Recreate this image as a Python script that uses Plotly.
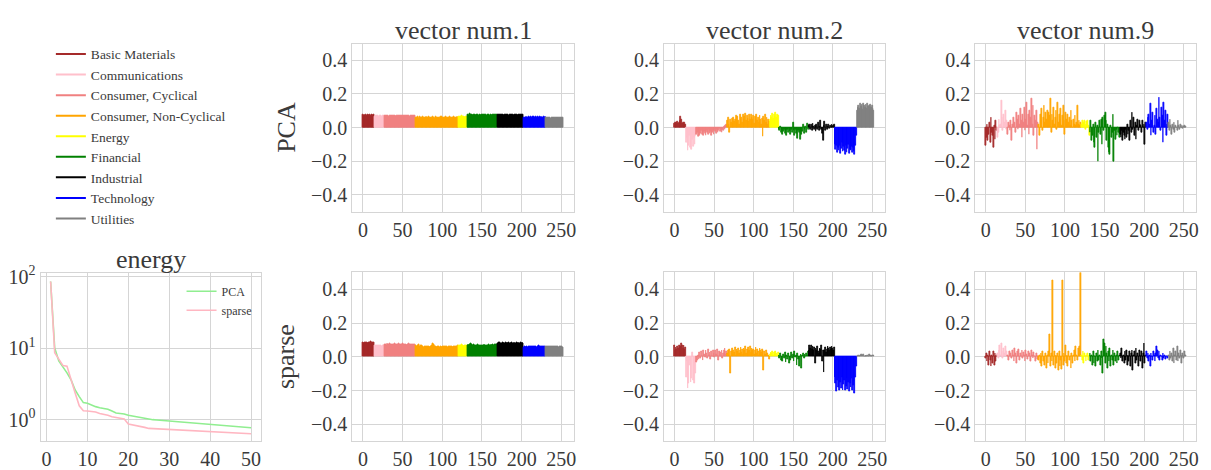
import plotly.graph_objects as go

# ---------------- data ----------------
sectors = ["Basic Materials", "Communications", "Consumer, Cyclical",
           "Consumer, Non-Cyclical", "Energy", "Financial", "Industrial",
           "Technology", "Utilities"]
sector_colors = ["#a52a2a", "#ffc0cb", "#f08080", "#ffa500", "#ffff00",
                 "#008000", "#000000", "#0000ff", "#808080"]

# loadings, one inner list per sector (stocks ordered by sector)
pca_v1 = [
    [.075,.072,.078,.074,.076, .073,.079,.075,.072,.077, .074,.078,.076,.073,.075],
    [.068,.070,.066,.071,.069, .067,.072,.068,.070,.066, .069,.071,.068],
    [.070,.072,.069,.073,.071, .068,.074,.070,.072,.069, .073,.071,.070,.074,.068,
     .072,.070,.073,.069,.071, .074,.070,.072,.068,.073, .071,.069,.072,.070,.074,
     .071,.068,.072,.070,.073, .069,.071,.070,.072],
    [.062,.058,.065,.060,.056, .063,.059,.061,.057,.064, .060,.058,.062,.066,.059,
     .061,.063,.057,.060,.062, .058,.064,.061,.059,.056, .063,.060,.062,.058,.061,
     .057,.063,.059,.065,.060, .062,.058,.061,.064,.059, .062,.057,.060,.063,.058,
     .061,.059,.062,.064,.060, .058,.061,.063,.059],
    [.065,.068,.063,.066,.069, .064,.067,.065,.062,.066, .068],
    [.076,.079,.074,.081,.077, .075,.078,.073,.080,.076, .074,.078,.075,.077,.073,
     .079,.076,.074,.078,.075, .077,.073,.076,.079,.074, .076,.078,.075,.073,.077,
     .076,.074,.078,.075,.077, .073,.076,.078],
    [.076,.078,.074,.077,.079, .075,.078,.076,.074,.077, .079,.075,.078,.076,.074,
     .077,.075,.079,.076,.078, .074,.077,.075,.078,.076, .074,.077,.079,.075,.076,
     .078,.074,.077],
    [.060,.062,.058,.063,.061, .059,.064,.060,.062,.065, .061,.063,.066,.062,.060,
     .064,.061,.063,.059,.062, .065,.061,.063,.060,.062, .064,.061,.063],
    [.058,.060,.057,.059,.061, .058,.056,.060,.059,.057, .061,.058,.060,.057,.059,
     .058,.060,.057,.059,.061, .058,.060],
]

sparse_v1 = [
    [.085,.082,.088,.084,.086, .083,.080,.085,.087,.084, .092,.086,.083,.088,.085],
    [.066,.068,.064,.069,.067, .065,.070,.066,.068,.064, .067,.069,.066],
    [.072,.075,.070,.077,.073, .071,.078,.074,.076,.072, .075,.073,.077,.071,.074,
     .076,.072,.078,.073,.075, .071,.074,.077,.072,.075, .073,.076,.070,.074,.072,
     .077,.073,.071,.075,.074, .072,.076,.073,.071],
    [.068,.064,.070,.066,.072, .063,.067,.065,.061,.064, .058,.062,.060,.057,.061,
     .059,.063,.058,.062,.060, .065,.080,.072,.066,.062, .060,.058,.061,.059,.063,
     .057,.060,.062,.058,.061, .063,.059,.057,.062,.060, .058,.061,.063,.059,.062,
     .060,.057,.061,.059,.064, .060,.062,.058,.065],
    [.065,.068,.070,.066,.072, .067,.064,.069,.066,.070, .067],
    [.068,.072,.070,.075,.082, .074,.070,.068,.072,.069, .066,.070,.067,.071,.068,
     .065,.069,.067,.070,.066, .068,.071,.067,.069,.066, .070,.068,.072,.067,.069,
     .071,.068,.073,.070,.072, .074,.071,.076],
    [.080,.083,.078,.085,.081, .079,.084,.086,.082,.080, .085,.081,.083,.079,.084,
     .082,.080,.086,.083,.081, .079,.084,.082,.080,.085, .081,.083,.079,.082,.084,
     .080,.083,.081],
    [.058,.061,.056,.060,.062, .057,.059,.063,.058,.061, .064,.059,.062,.057,.060,
     .063,.058,.061,.059,.066, .060,.062,.058,.061,.059, .063,.060,.062],
    [.062,.060,.063,.061,.059, .062,.064,.060,.061,.063, .059,.062,.060,.061,.063,
     .060,.058,.062,.061,.059, .060,.058],
]

pca_v2 = [
    [.025,.030,.020,.028,.035, .022,.030,.040,.065,.045, .025,.030,.020,.028,.015],
    [-.090,-.060,-.140,-.110,-.050, -.120,-.080,-.130,-.070,-.115, -.060,-.100,-.045],
    [-.040,-.030,-.055,-.025,-.045, -.035,-.020,-.040,-.030,-.050, -.025,-.035,-.045,-.020,-.030,
     -.040,-.015,-.035,-.025,-.045, -.030,-.020,-.040,-.010,-.025, -.035,-.015,-.030,-.020,-.005,
     -.025,-.015,-.030,-.010,-.020, .005,-.015,.010,.020],
    [.040,.060,.020,-.030,.045, .030,.055,.025,.060,.035, .050,.070,.030,.065,.040,
     .020,.075,.045,.060,.030, .080,.050,.065,.085,.040, .070,.055,.035,.075,.050,
     .080,.060,.045,.070,.025, .065,.050,.075,.040,.060, .030,.070,.045,.020,.055,
     -.055,.065,.040,.075,.030, .060,.015,.050,.035],
    [.050,.070,.060,.085,.055, .075,.065,.090,.060,.080, .070],
    [-.010,-.020,.005,-.030,-.015, -.040,-.025,-.010,-.035,-.020, -.045,-.015,-.030,-.005,-.025,
     -.040,-.010,-.030,.030,-.020, -.050,-.015,-.035,-.005,-.065, -.020,-.030,-.070,-.010,-.040,
     -.025,.020,-.035,-.015,.005, -.030,.025,-.010],
    [.010,.020,-.010,.015,-.020, .025,.005,-.015,.010,-.025, .020,-.010,.030,-.020,.005,
     .040,-.015,-.035,-.080,.010, .035,-.020,.015,-.010,.005, .020,-.005,.010,.000,.015,
     .005,.010,.020],
    [-.100,-.130,-.110,-.150,-.120, -.140,-.105,-.155,-.125,-.090, -.145,-.115,-.135,-.160,-.110,
     -.150,-.125,-.100,-.155,-.130, -.140,-.115,-.150,-.120,-.145, -.160,-.110,-.050],
    [.100,.120,.130,.110,.140, .125,.135,.105,.140,.130, .120,.135,.110,.140,.125,
     .130,.105,.135,.120,.130, .115,.100],
]

sparse_v2 = [
    [.065,.040,.055,.045,.060, .050,.070,.055,.060,.080, .065,.050,.070,.045,.055],
    [-.120,-.030,-.185,-.160,-.050, -.020,-.150,-.130,.025,-.140, -.160,-.060,-.100],
    [-.035,-.020,.010,-.015,.025, -.010,.030,.005,-.020,.040, .015,-.005,.035,.020,-.010,
     .045,.010,.025,-.015,.030, .005,.040,.020,-.005,.035, .015,.045,.010,-.020,.030,
     .025,.005,.040,-.010,.020, .035,.050,.015,.030],
    [.020,.035,.010,.045,-.100, .030,.050,.015,.040,.025, .055,.010,.045,.030,.050,
     .020,.040,.055,.025,.045, .015,.050,.035,.060,.020, .045,.030,.055,.040,.060,
     .025,.050,.035,.045,.015, .040,.055,.020,.045,.030, .010,.050,.035,.025,.045,
     .040,-.080,.030,.015,.035, .005,.020,.010,-.015],
    [.015,.025,.020,.030,.010, .025,.015,.030,.020,.010, .025],
    [.010,-.010,.020,-.020,.005, -.030,.015,-.010,.025,-.035, .010,-.015,.020,-.040,.005,
     -.020,.025,-.010,.015,-.030, .030,-.005,.010,-.050,.020, -.015,-.060,.005,.015,-.070,
     .010,.020,-.010,.015,.005, .020,.010,.030],
    [.040,.065,.050,.070,.045, .060,.035,.055,-.040,.050, .040,.060,.030,.020,.050,
     .045,.065,-.030,.035,-.090, .040,.055,.025,.045,.060, .050,.035,.055,.045,.060,
     .050,.040,.055],
    [-.120,-.160,-.205,-.140,-.180, -.130,-.200,-.150,-.185,-.120, -.200,-.165,-.140,-.200,-.175,
     -.130,-.195,-.150,-.205,-.160, -.180,-.130,-.200,-.170,-.145, -.215,-.120,-.060],
    [.005,.000,.008,.003,.010, .015,.002,.006,.012,.004, .000,.008,.003,.010,.005,
     .012,.002,.007,.004,.009, .003,.006],
]

pca_v9 = [
    [-.110,-.060,.020,-.080,-.040, .030,-.090,.060,-.030,-.050, -.120,.010,-.070,.040,-.020],
    [-.060,-.030,.050,.010,.020, .160,.060,-.020,.080,.030, .100,-.010,.040],
    [-.040,.030,.010,-.020,.040, -.080,.020,.060,.000,.030, -.030,.090,.050,-.010,.070,
     .020,.110,.040,-.060,.080, .030,.120,-.020,.050,.150, .010,.080,-.040,.100,.060,
     .170,.020,.130,-.050,.070, .040,.100,-.130,.030],
    [.020,-.050,.080,.040,.110, -.020,.060,.130,.030,.090, .050,.100,.010,.090,.070,
     .170,-.030,.080,.040,.120, .020,.060,.100,-.010,.150, .030,.080,.050,.110,.010,
     .070,.130,.040,-.040,.090, .050,.020,.080,.030,.060, .010,.100,.040,.000,.050,
     .020,.070,.010,.030,.130, .020,.040,.010,.030],
    [.020,.040,.010,.030,.040, -.010,.020,.035,.040,.010, -.050],
    [-.030,.040,-.080,-.050,.020, -.090,-.120,.030,-.060,.010, -.200,-.030,.040,-.040,.050,
     -.100,.060,-.020,.070,.090, .040,-.080,.020,-.120,-.150, -.160,.010,-.060,-.030,.080,
     -.200,-.020,-.070,-.010,-.050, .000,-.030,-.060],
    [-.040,-.060,-.020,-.080,-.030, -.050,-.070,-.010,-.060,.020, -.040,-.020,-.080,.040,-.030,
     .090,-.010,.060,-.050,.030, -.070,.010,.050,-.020,.040, .020,.010,-.030,.040,.000,
     .020,-.100,.030],
    [.030,-.010,.060,.080,.020, .140,-.050,.040,.090,-.030, .010,.070,-.040,.110,.050,
     .030,.180,.060,-.020,.120, .070,-.090,.150,.040,.100, -.050,.020,.080],
    [.030,-.020,.050,.010,-.040, .020,-.010,.030,-.030,.010, .000,-.020,.040,.010,-.010,
     .020,.000,.010,-.005,.005, .010,.005],
]

sparse_v9 = [
    [-.010,.020,-.030,.010,-.050, .030,-.020,-.060,.010,-.040, .030,-.050,.020,-.030,.010],
    [.020,-.010,.040,.070,.010, .080,.030,-.010,.050,.020, .060,.010,.030],
    [.010,-.020,.030,.000,.020, -.010,.040,.010,-.030,.050, .020,-.040,.030,.010,.045,
     -.020,.020,.000,.035,-.010, .025,.010,-.030,.040,.015, -.015,.030,.005,.020,-.025,
     .035,.010,-.010,.025,.000, -.030,.020,.010,-.015],
    [-.020,.010,-.040,.020,-.060, .030,-.030,.000,-.050,.020, -.070,.010,-.040,.030,
     .135,-.060,.020,-.030, .450,-.050,.030,-.070,.010,-.040,
     .020,-.080,.030,-.060,-.020,-.075, .455,-.050,.020,-.030,.070,
     -.040,.010,-.060,.030,-.020, .000,-.070,.020,-.040,.010,
     .040,-.030,.060,.010,-.020, .050,.020,.060, .520],
    [.010,-.020,.030,-.040,.020, .000,-.030,.010,.020,-.020, .010],
    [.020,-.030,.010,-.050,.030, -.040,.000,-.060,.020,-.030, .040,-.020,.010,-.050,.030,
     -.010,-.100,.100,.080,-.040, .060,.020,-.070,.030,-.030, .050,-.060,.010,-.020,.040,
     -.050,.020,-.030,.010,-.040, .030,-.020,.010],
    [.020,-.010,.050,-.030,.010, -.040,.030,-.020,.040,-.050, .010,-.030,.030,-.060,.020,
     .040,-.080,.010,.030,-.040, .050,-.020,.020,-.060,.040, .010,-.030,.030,-.070,.020,
     .080,-.040,.010],
    [.030,-.010,.020,-.030,.010, -.060,.020,.000,-.020,.030, .010,-.030,.020,.060,.040,
     -.010,.030,-.020,.010,.000, -.020,.020,-.010,.010,-.015,.005, .000,-.010],
    [.010,-.020,.030,-.010,.020, -.030,.050,-.040,.010,.030, -.020,.060,-.030,.020,-.010,
     .040,-.040,.010,.020,-.010, .030,.010],
]

# explained energy of the first 50 components (log scale)
energy_k = list(range(1, 51))
energy_pca = [85, 10.0, 6.6, 5.5, 4.5, 3.6, 2.6, 2.1, 1.73, 1.70,
              1.60, 1.52, 1.47, 1.44, 1.40, 1.32, 1.24, 1.22, 1.20, 1.15,
              1.12, 1.09, 1.06, 1.03, 1.01, 1.00, 0.99, 0.98, 0.97, 0.96,
              0.95, 0.93, 0.92, 0.91, 0.90, 0.89, 0.88, 0.87, 0.86, 0.85,
              0.84, 0.83, 0.82, 0.815, 0.81, 0.80, 0.79, 0.785, 0.78, 0.77]
energy_sparse = [85, 8.6, 7.0, 5.7, 5.6, 3.55, 2.35, 1.56, 1.33, 1.32,
                 1.30, 1.28, 1.22, 1.19, 1.15, 1.10, 1.07, 1.04, 1.02, 0.87,
                 0.85, 0.83, 0.81, 0.78, 0.755, 0.75, 0.745, 0.74, 0.73, 0.72,
                 0.715, 0.71, 0.705, 0.70, 0.70, 0.695, 0.69, 0.685, 0.68, 0.68,
                 0.675, 0.67, 0.665, 0.66, 0.655, 0.65, 0.65, 0.645, 0.64, 0.635]

titles = ["vector num.1", "vector num.2", "vector num.9"]
row_labels = ["PCA", "sparse"]

# ---------------- figure ----------------
W, H = 1211, 470
FONT = "Liberation Serif"
GRID = "#d5d5d5"
TXT = "#3a3a3a"

def px_x(p):
    return p / W

def px_y(p):
    return 1 - p / H

col_dom = [(353.3, 575.0), (665.7, 886.7), (977.7, 1199.0)]
row_dom = [(35.0, 210.0), (273.5, 449.3)]

fig = go.Figure()

panels = [[pca_v1, pca_v2, pca_v9], [sparse_v1, sparse_v2, sparse_v9]]
axis_id = 1
layout_axes = {}
for r in range(2):
    for c in range(3):
        data = panels[r][c]
        xa = "x" if axis_id == 1 else f"x{axis_id}"
        ya = "y" if axis_id == 1 else f"y{axis_id}"
        start = 0
        for s, vals in enumerate(data):
            xs = list(range(start, start + len(vals)))
            start += len(vals)
            fig.add_trace(go.Bar(x=xs, y=vals, width=1.0, xaxis=xa, yaxis=ya,
                                 marker=dict(color=sector_colors[s],
                                             line=dict(color=sector_colors[s], width=0.8)),
                                 showlegend=False, hoverinfo="x+y"))
        key_x = "xaxis" if axis_id == 1 else f"xaxis{axis_id}"
        key_y = "yaxis" if axis_id == 1 else f"yaxis{axis_id}"
        x0, x1 = col_dom[c]
        y0, y1 = row_dom[r]
        layout_axes[key_x] = dict(domain=[px_x(x0), px_x(x1)], anchor=ya,
                                  range=[-13.2, 265.4], tickvals=[0, 50, 100, 150, 200, 250])
        layout_axes[key_y] = dict(domain=[px_y(y1), px_y(y0)], anchor=xa,
                                  range=[-0.5, 0.5], tickvals=[-0.4, -0.2, 0.0, 0.2, 0.4],
                                  tickformat=".1f")
        axis_id += 1

# energy panel (axis 7)
fig.add_trace(go.Scatter(x=energy_k, y=energy_pca, mode="lines", name="PCA",
                         line=dict(color="#90ee90", width=1.6),
                         xaxis="x7", yaxis="y7", legend="legend2"))
fig.add_trace(go.Scatter(x=energy_k, y=energy_sparse, mode="lines", name="sparse",
                         line=dict(color="#ffb6c1", width=1.6),
                         xaxis="x7", yaxis="y7", legend="legend2"))
layout_axes["xaxis7"] = dict(domain=[px_x(40.7), px_x(261.7)], anchor="y7",
                             range=[-1.45, 52.45], tickvals=[0, 10, 20, 30, 40, 50])
layout_axes["yaxis7"] = dict(domain=[px_y(449.3), px_y(274.0)], anchor="x7",
                             type="log", range=[-0.30, 2.05], tickvals=[1, 10, 100],
                             ticktext=["10<sup>0</sup>", "10<sup>1</sup>", "10<sup>2</sup>"])

# sector legend entries (line samples)
for s, name in enumerate(sectors):
    fig.add_trace(go.Scatter(x=[None], y=[None], mode="lines", name=name,
                             line=dict(color=sector_colors[s], width=2),
                             xaxis="x7", yaxis="y7", legend="legend"))

common = dict(showgrid=True, gridcolor=GRID, gridwidth=1, zeroline=False,
              showline=True, linecolor=GRID, linewidth=1.2, mirror=True,
              ticks="", tickfont=dict(family=FONT, size=20, color=TXT))
for k, v in layout_axes.items():
    v.update(common)

annotations = []
for c in range(3):
    x0, x1 = col_dom[c]
    annotations.append(dict(text=titles[c], x=px_x((x0 + x1) / 2), y=px_y(21),
                            xref="paper", yref="paper", showarrow=False,
                            xanchor="center", yanchor="middle",
                            font=dict(family=FONT, size=26, color=TXT)))
annotations.append(dict(text="energy", x=px_x(151.2), y=px_y(260), xref="paper", yref="paper",
                        showarrow=False, xanchor="center", yanchor="middle",
                        font=dict(family=FONT, size=26, color=TXT)))
for r, lab in enumerate(row_labels):
    y0, y1 = row_dom[r]
    annotations.append(dict(text=lab, x=px_x(287), y=px_y((y0 + y1) / 2), xref="paper",
                            yref="paper", showarrow=False, textangle=-90,
                            xanchor="center", yanchor="middle",
                            font=dict(family=FONT, size=26, color=TXT)))

fig.update_layout(
    width=W, height=H, margin=dict(l=0, r=0, t=0, b=0),
    paper_bgcolor="white", plot_bgcolor="white",
    barmode="overlay", bargap=0,
    annotations=annotations,
    legend=dict(x=px_x(51), y=px_y(30), xanchor="left", yanchor="top",
                font=dict(family=FONT, size=13.5, color=TXT), itemwidth=30,
                bgcolor="rgba(0,0,0,0)", tracegroupgap=0),
    legend2=dict(x=px_x(182), y=px_y(278), xanchor="left", yanchor="top",
                 font=dict(family=FONT, size=12, color=TXT), itemwidth=30,
                 bgcolor="rgba(0,0,0,0)"),
    **layout_axes,
)

fig.write_html("out.html")
